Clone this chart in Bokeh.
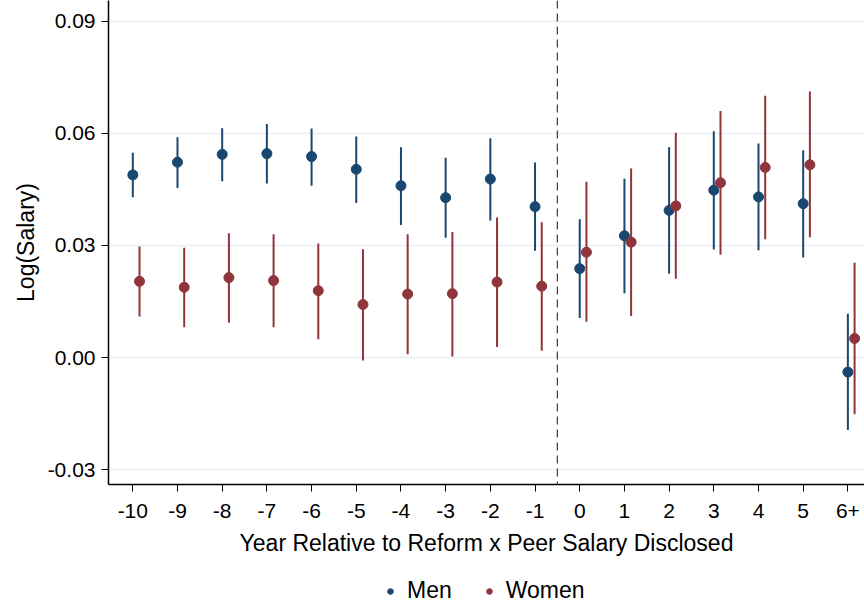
from bokeh.plotting import figure
from bokeh.layouts import column
from bokeh.models import ColumnDataSource, FixedTicker, Span, Legend, LegendItem, Range1d, NumeralTickFormatter
from bokeh.transform import dodge
from bokeh.embed import file_html
from bokeh.resources import INLINE

# ---- data ----
years = [-10, -9, -8, -7, -6, -5, -4, -3, -2, -1, 0, 1, 2, 3, 4, 5, 6]
year_labels = ["-10", "-9", "-8", "-7", "-6", "-5", "-4", "-3", "-2", "-1", "0", "1", "2", "3", "4", "5", "6+"]

men_coef = [0.0489, 0.0523, 0.0544, 0.0546, 0.0538, 0.0504, 0.0460, 0.0428, 0.0478, 0.0404,
            0.0238, 0.0326, 0.0394, 0.0448, 0.0430, 0.0412, -0.0039]
men_hi = [0.0548, 0.0590, 0.0614, 0.0625, 0.0613, 0.0592, 0.0563, 0.0535, 0.0587, 0.0522,
          0.0370, 0.0479, 0.0563, 0.0606, 0.0573, 0.0555, 0.0117]
men_lo = [0.0429, 0.0454, 0.0472, 0.0466, 0.0460, 0.0414, 0.0355, 0.0321, 0.0367, 0.0286,
          0.0106, 0.0172, 0.0224, 0.0289, 0.0287, 0.0268, -0.0194]

women_coef = [0.0204, 0.0188, 0.0214, 0.0206, 0.0179, 0.0142, 0.0170, 0.0171, 0.0202, 0.0191,
              0.0282, 0.0309, 0.0406, 0.0468, 0.0509, 0.0516, 0.0051]
women_hi = [0.0297, 0.0294, 0.0333, 0.0330, 0.0305, 0.0290, 0.0330, 0.0336, 0.0375, 0.0362,
            0.0471, 0.0506, 0.0602, 0.0660, 0.0701, 0.0712, 0.0254]
women_lo = [0.0110, 0.0081, 0.0093, 0.0081, 0.0049, -0.0008, 0.0009, 0.0003, 0.0028, 0.0018,
            0.0096, 0.0111, 0.0211, 0.0275, 0.0317, 0.0322, -0.0152]

y_ticks = [-0.03, 0.0, 0.03, 0.06, 0.09]
reform_line = -0.5

MEN_COLOR = "#1a476f"
WOMEN_COLOR = "#90353b"
FONT = "Liberation Sans"

src = ColumnDataSource(dict(year=years, men=men_coef, men_lo=men_lo, men_hi=men_hi,
                            women=women_coef, women_lo=women_lo, women_hi=women_hi))

p = figure(width=864, height=570, output_backend="svg", toolbar_location=None,
           x_range=Range1d(-10.544, 6.372), y_range=Range1d(-0.034, 0.0956),
           min_border_left=108, min_border_right=0, min_border_top=0, min_border_bottom=86)
p.outline_line_color = None
p.background_fill_color = "white"

# grid
p.xgrid.grid_line_color = None
p.ygrid.grid_line_color = "#eaeef4"
p.ygrid.grid_line_width = 1.5
p.ygrid.ticker = FixedTicker(ticks=y_ticks)

# axes
p.yaxis.ticker = FixedTicker(ticks=y_ticks)
p.yaxis.formatter = NumeralTickFormatter(format="0.00")
p.xaxis.ticker = FixedTicker(ticks=years)
p.xaxis.major_label_overrides = {y: l for y, l in zip(years, year_labels)}
for ax in (p.xaxis, p.yaxis):
    ax.axis_line_color = "black"
    ax.axis_line_width = 1.5
    ax.major_tick_line_color = "black"
    ax.major_tick_line_width = 1
    ax.major_tick_out = 7
    ax.major_tick_in = 0
    ax.minor_tick_line_color = None
    ax.major_label_text_font = FONT
    ax.major_label_text_font_size = "21px"
    ax.major_label_text_color = "black"
    ax.axis_label_text_font = FONT
    ax.axis_label_text_font_size = "23px"
    ax.axis_label_text_font_style = "normal"
    ax.axis_label_text_color = "black"
p.yaxis.axis_label = "Log(Salary)"
p.xaxis.axis_label = "Year Relative to Reform x Peer Salary Disclosed"
p.yaxis.major_label_standoff = 6
p.xaxis.major_label_standoff = 12
p.yaxis.axis_label_standoff = 6
p.xaxis.axis_label_standoff = 9

# reform line
p.add_layout(Span(location=reform_line, dimension="height", line_color="#444444",
                  line_width=1.3, line_dash="8 5"))

wx = dodge("year", 0.15)

# men
p.segment(x0="year", x1="year", y0="men_lo", y1="men_hi", source=src,
          line_color=MEN_COLOR, line_width=2)
p.scatter(x="year", y="men", source=src, size=10, marker="circle",
          fill_color=MEN_COLOR, line_color=MEN_COLOR)

# women (dodged)
p.segment(x0=wx, x1=wx, y0="women_lo", y1="women_hi", source=src,
          line_color=WOMEN_COLOR, line_width=2)
p.scatter(x=wx, y="women", source=src, size=10, marker="circle",
          fill_color=WOMEN_COLOR, line_color=WOMEN_COLOR)

# ---- legend strip (separate small figure below the chart) ----
lf = figure(width=864, height=38, output_backend="svg", toolbar_location=None,
            x_axis_location=None, y_axis_location=None,
            x_range=Range1d(100, 101), y_range=Range1d(100, 101),
            min_border_left=0, min_border_right=0, min_border_top=0, min_border_bottom=0)
lf.outline_line_color = None
lf.xgrid.grid_line_color = None
lf.ygrid.grid_line_color = None

# renderers for legend glyphs only (their data lies outside this strip's ranges)
lm = lf.scatter(x="year", y="men", source=src, size=6, marker="circle",
                fill_color=MEN_COLOR, line_color=MEN_COLOR)
lw = lf.scatter(x="year", y="women", source=src, size=6, marker="circle",
                fill_color=WOMEN_COLOR, line_color=WOMEN_COLOR)

legend = Legend(items=[LegendItem(label="Men", renderers=[lm]),
                       LegendItem(label="Women", renderers=[lw])],
                orientation="horizontal", location=(275, 4),
                label_text_font=FONT, label_text_font_size="23px",
                label_text_color="black",
                border_line_color=None, background_fill_alpha=0,
                glyph_width=14, glyph_height=14, spacing=30, label_standoff=10,
                margin=0, padding=0)
lf.add_layout(legend, "center")

layout = column(p, lf, spacing=0)
open("out.html", "w").write(file_html(layout, INLINE))
